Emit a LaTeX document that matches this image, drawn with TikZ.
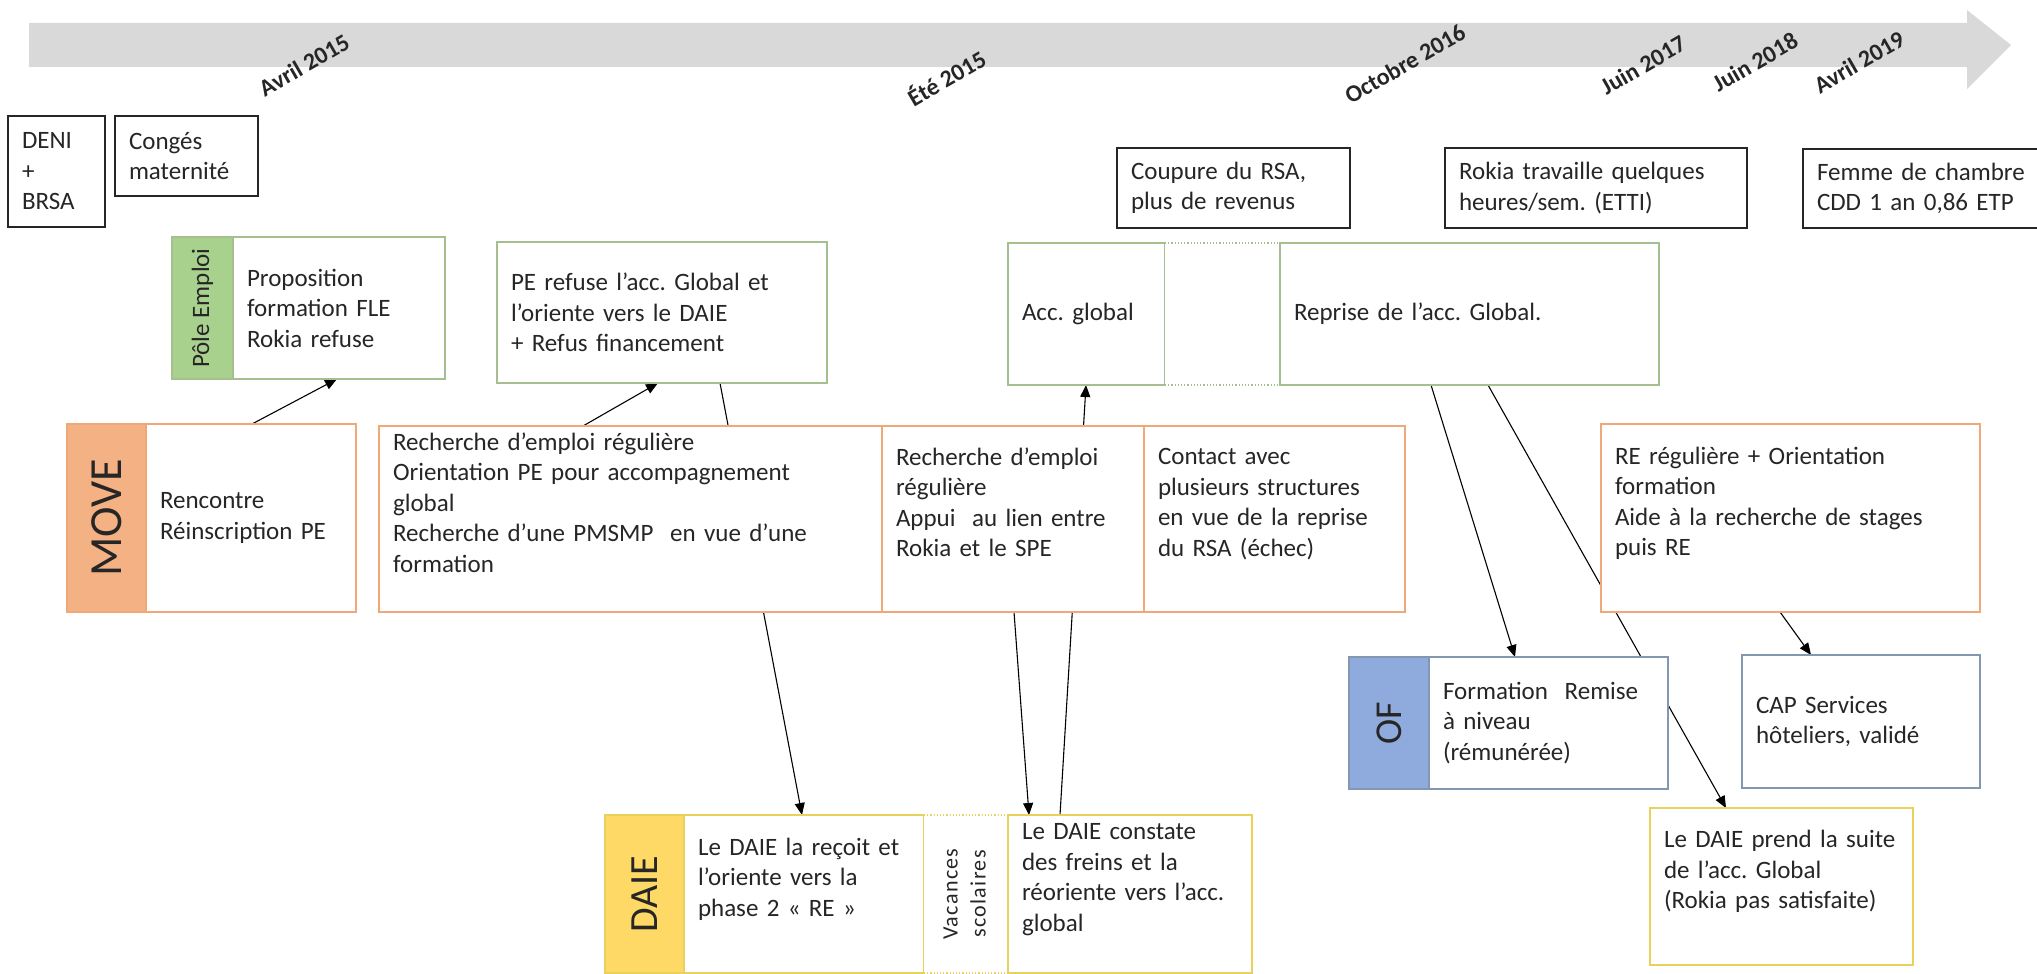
\documentclass[tikz,border=0pt]{standalone}
\usepackage{fontspec}
\setmainfont{Carlito}
\newfontfamily\vacfont[LetterSpace=6]{Carlito}
\usetikzlibrary{positioning}
\usetikzlibrary{arrows.meta}
\usetikzlibrary{backgrounds}

\definecolor{bandgray}{HTML}{D9D9D9}
\definecolor{orgfill}{HTML}{F4B183}
\definecolor{orgline}{HTML}{EFA878}
\definecolor{grnfill}{HTML}{A9D18E}
\definecolor{grnline}{HTML}{A5C08E}
\definecolor{blufill}{HTML}{8FAADC}
\definecolor{bluline}{HTML}{8497B0}
\definecolor{ylwfill}{HTML}{FFD966}
\definecolor{ylwline}{HTML}{E9D25C}
\definecolor{inkgray}{HTML}{262626}

\newcommand{\tailgap}{\\[3pt]\mbox{}}
\frenchspacing

\begin{document}
\begin{tikzpicture}
    [
    x=1pt, y=-1pt,
    boxsize/.code 2 args={%
      \pgfmathsetmacro\boxtw{#1-28}%
      \edef\next{\noexpand\tikzset{minimum width=#1pt, minimum height=#2pt, text width=\boxtw pt}}\next},
    panel/.style={draw=#1, fill=white, line width=1.2pt, inner xsep=14pt, inner ysep=0pt,
      outer sep=0pt, align=left, anchor=north west, text=inkgray,
      font=\fontsize{25}{30.5}\selectfont},
    evtbox/.style={panel=black!85, line width=1.6pt},
    orgbox/.style={panel=orgline},
    grnbox/.style={panel=grnline},
    blubox/.style={panel=bluline},
    ylwbox/.style={panel=ylwline},
    sidebar/.style 2 args={draw=#1, fill=#2, line width=1.2pt, inner sep=0pt, outer sep=0pt,
      anchor=north west, text=inkgray, font=\fontsize{25}{30.5}\selectfont},
    datelbl/.style={inner sep=0pt, text=inkgray, font=\fontsize{24}{28}\selectfont\bfseries},
    conn/.style={draw=black, line width=1.1pt, -{Triangle[length=12pt, width=10pt]}},
    ]

    \useasboundingbox (0,0) rectangle (2037,974);

    % timeline
    \fill[bandgray] (29,23) -- (1967,23) -- (1967,10) -- (2011,45) -- (1967,89)
        -- (1967,67) -- (29,67) -- cycle;

    \node[datelbl] (d_apr15) at (304,65) {\rotatebox{30}{Avril 2015}};
    \node[datelbl] (d_ete15) at (946,77) {\rotatebox{30}{Été 2015}};
    \node[datelbl] (d_oct16) at (1405,64) {\rotatebox{30}{Octobre 2016}};
    \node[datelbl] (d_jun17) at (1643,65) {\rotatebox{30}{Juin 2017}};
    \node[datelbl] (d_jun18) at (1755,62) {\rotatebox{30}{Juin 2018}};
    \node[datelbl] (d_apr19) at (1859,62) {\rotatebox{30}{Avril 2019}};

    % events
    \node[evtbox, boxsize={97}{111}] (ev_deni) at (8,116) {DENI\\+\\BRSA};
    \node[evtbox, boxsize={143}{80}] (ev_conges) at (115,116) {Congés\\maternité};
    \node[evtbox, boxsize={233}{80}] (ev_coupure) at (1117,148) {Coupure du RSA,\\plus de revenus};
    \node[evtbox, boxsize={302}{80}] (ev_rokia) at (1445,148) {Rokia travaille quelques\\heures/sem. (ETTI)};
    \node[evtbox, boxsize={245}{79}] (ev_femme) at (1803,149) {Femme de chambre\\CDD 1 an 0,86 ETP};

    % Pole Emploi
    \node[sidebar={grnline}{grnfill}, minimum width=61pt, minimum height=142pt] (pe_bar) at (172,237)
    {\rotatebox{90}{Pôle Emploi}};
    \node[grnbox, boxsize={212}{142}, right=0pt of pe_bar] (pe_fle)
    {Proposition\\formation FLE\\Rokia refuse};
    \node[grnbox, boxsize={330}{141}] (pe_refus) at (497,242)
    {PE refuse l’acc. Global et\\l’oriente vers le DAIE\\+ Refus financement};
    \node[grnbox, boxsize={157}{142}] (ag_start) at (1008,243) {Acc. global};
    \node[grnbox, boxsize={115}{142}, draw=none, right=0pt of ag_start] (ag_gap) {};
    \node[grnbox, boxsize={379}{142}, right=0pt of ag_gap] (ag_resume) {Reprise de l’acc. Global.};
    \draw[grnline, line width=1.2pt, dotted] (ag_gap.north west) -- (ag_gap.north east)
        (ag_gap.south west) -- (ag_gap.south east);

    % MOVE
    \node[sidebar={orgline}{orgfill}, minimum width=79pt, minimum height=188pt,
        font=\fontsize{46}{48}\selectfont] (mv_bar) at (67,424) {\rotatebox{90}{MOVE}};
    \node[orgbox, boxsize={210}{188}, right=0pt of mv_bar] (mv_meet) {Rencontre\\Réinscription PE};
    \node[orgbox, boxsize={503}{186}] (mv_search) at (379,426)
    {Recherche d’emploi régulière\\Orientation PE pour accompagnement\\global\\Recherche d’une PMSMP\ \ en vue d’une\\formation\tailgap};
    \node[orgbox, boxsize={262}{186}, right=0pt of mv_search] (mv_link)
    {Recherche d’emploi\\régulière\\Appui\ \ au lien entre\\Rokia et le SPE\tailgap};
    \node[orgbox, boxsize={261}{186}, right=0pt of mv_link] (mv_contact)
    {Contact avec\\plusieurs structures\\en vue de la reprise\\du RSA (échec)\tailgap};
    \node[orgbox, boxsize={379}{188}] (mv_orient) at (1601,424)
    {RE régulière + Orientation\\formation\\Aide à la recherche de stages\\puis RE\tailgap};

    % OF
    \node[sidebar={bluline}{blufill}, minimum width=80pt, minimum height=132pt,
        font=\fontsize{38}{40}\selectfont] (of_bar) at (1349,657) {\rotatebox{90}{OF}};
    \node[blubox, boxsize={239}{132}, right=0pt of of_bar] (of_remise)
    {Formation\ \ Remise\\à niveau\\(rémunérée)};
    \node[blubox, boxsize={238}{133}] (of_cap) at (1742,655) {CAP Services\\hôteliers, validé};

    % DAIE
    \node[sidebar={ylwline}{ylwfill}, minimum width=79pt, minimum height=158pt,
        font=\fontsize{40}{42}\selectfont] (da_bar) at (605,815) {\rotatebox{90}{DAIE}};
    \node[ylwbox, boxsize={240}{158}, right=0pt of da_bar] (da_phase)
    {Le DAIE la reçoit et\\l’oriente vers la\\phase 2 « RE »\tailgap};
    \node[ylwbox, draw=none, minimum width=84pt, minimum height=158pt, inner xsep=0pt,
        right=0pt of da_phase] (da_vac)
    {\rotatebox{90}{\vacfont\fontsize{22}{28}\selectfont\begin{tabular}{@{}c@{}}Vacances\\scolaires\end{tabular}}};
    \node[ylwbox, boxsize={244}{158}, right=0pt of da_vac] (da_brake)
    {Le DAIE constate\\des freins et la\\réoriente vers l’acc.\\global\tailgap};
    \draw[ylwline, line width=1.2pt, dotted] (da_vac.north west) -- (da_vac.north east)
        (da_vac.south west) -- (da_vac.south east);
    \node[ylwbox, boxsize={263}{157}] (da_follow) at (1650,808)
    {Le DAIE prend la suite\\de l’acc. Global\\(Rokia pas satisfaite)\tailgap};

    % links, behind the boxes
    \begin{scope}[on background layer]
    \draw[conn] ([xshift=106]mv_meet.north west) -- ([xshift=104]pe_fle.south west);
    \draw[conn] ([xshift=204]mv_search.north west) -- ([xshift=161]pe_refus.south west);
    \draw[conn] ([xshift=223]pe_refus.south west) -- ([xshift=118]da_phase.north west);
    \draw[conn] ([xshift=132]mv_link.south west) -- ([xshift=21]da_brake.north west);
    \draw[conn] ([xshift=52]da_brake.north west) -- ([xshift=78]ag_start.south west);
    \draw[conn] ([xshift=151]ag_resume.south west) -- ([xshift=86]of_remise.north west);
    \draw[conn] ([xshift=208]ag_resume.south west) -- ([xshift=76]da_follow.north west);
    \draw[conn] ([xshift=179]mv_orient.south west) -- ([xshift=69]of_cap.north west);
    \end{scope}
\end{tikzpicture}
\end{document}
